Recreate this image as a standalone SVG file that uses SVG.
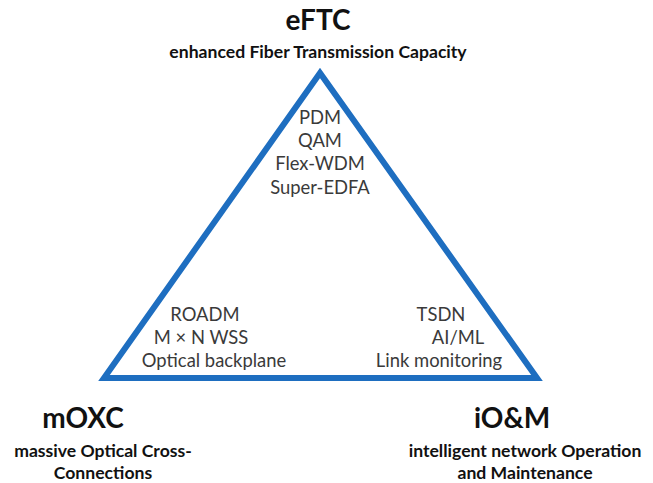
<svg xmlns="http://www.w3.org/2000/svg" width="653" height="483" viewBox="0 0 653 483">
  <style>
    .title { font-family: Lato, "Open Sans", sans-serif; font-weight: bold; fill: #111; text-anchor: middle; }
    .big { font-size: 28px; }
    .sub { font-size: 17.6px; }
    .tech { font-family: Lato, "Open Sans", sans-serif; font-size: 18.4px; fill: #3a3a3a; text-anchor: middle; }
  </style>
  <rect width="653" height="483" fill="#ffffff"/>

  <!-- connectors: the triangle linking the three pillars -->
  <g id="connectors">
    <polygon points="320,73 104,378 537,378" fill="none" stroke="#1E6EC0" stroke-width="6" stroke-linejoin="miter"/>
  </g>

  <g id="eFTC">
    <text class="title big" x="318" y="30">eFTC</text>
    <text class="title sub" x="318" y="58">enhanced Fiber Transmission Capacity</text>
  </g>

  <g id="eFTC-tech">
    <text class="tech" x="320" y="124">PDM</text>
    <text class="tech" x="320" y="147">QAM</text>
    <text class="tech" x="320" y="170">Flex-WDM</text>
    <text class="tech" x="320" y="194">Super-EDFA</text>
  </g>

  <g id="mOXC-tech">
    <text class="tech" x="205" y="321">ROADM</text>
    <text class="tech" x="201" y="344">M × N WSS</text>
    <text class="tech" x="214" y="367">Optical backplane</text>
  </g>

  <g id="iOM-tech">
    <text class="tech" x="441" y="321">TSDN</text>
    <text class="tech" x="458" y="344">AI/ML</text>
    <text class="tech" x="439" y="367">Link monitoring</text>
  </g>

  <g id="mOXC">
    <text class="title big" x="83" y="428">mOXC</text>
    <text class="title sub" x="103" y="457">massive Optical Cross-</text>
    <text class="title sub" x="103" y="479">Connections</text>
  </g>

  <g id="iOM">
    <text class="title big" x="512" y="428">iO&amp;M</text>
    <text class="title sub" x="525" y="457">intelligent network Operation</text>
    <text class="title sub" x="525" y="479">and Maintenance</text>
  </g>
</svg>
